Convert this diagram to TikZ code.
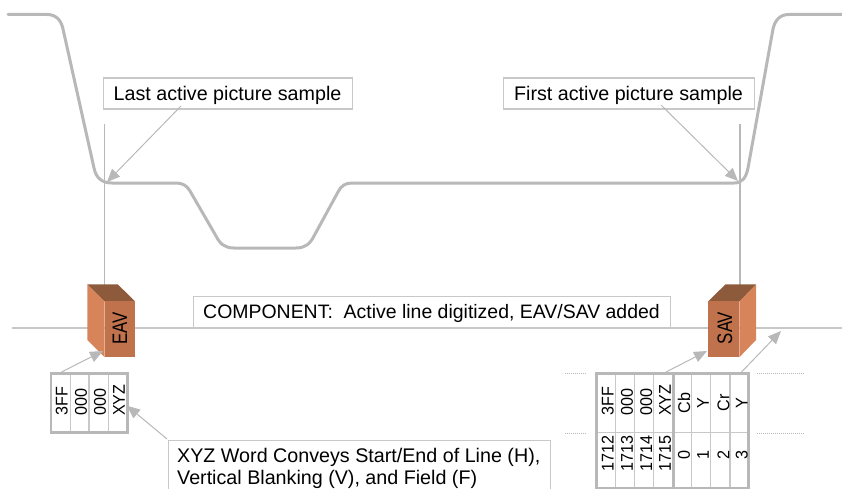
\documentclass[tikz,border=0pt]{standalone}
\usepackage{fontspec}
\setmainfont{Liberation Sans}
\newfontfamily\cellf[FakeStretch=0.95]{Liberation Sans}
\newfontfamily\boxf[FakeStretch=0.8]{Liberation Sans}
\usetikzlibrary{arrows.meta}
\definecolor{gline}{HTML}{B8B8B8}
\definecolor{lline}{HTML}{C8C8C8}
\definecolor{bside}{HTML}{D8845A}
\definecolor{bfront}{HTML}{C0724C}
\definecolor{btop}{HTML}{8E5A3C}
\tikzset{
  wave/.style={draw=gline,line width=3pt,line join=round,line cap=round},
  guide/.style={draw=lline,line width=2pt},
  vguide/.style={draw=gline,line width=1.1pt},
  callout/.style={draw=lline,line width=1.2pt,fill=white,inner sep=0pt,anchor=north west},
  lbl/.style={inner sep=0pt,font=\fontsize{19.7}{21}\selectfont},
  pointer/.style={draw=gline,line width=1pt,-{Triangle[length=13pt,width=11pt]}},
  cell/.style={rotate=90,inner sep=0pt,font=\cellf\fontsize{17}{17}\selectfont},
  boxlabel/.style={rotate=90,inner sep=0pt,anchor=center,font=\boxf\fontsize{21}{21}\selectfont},
  tblo/.style={draw=gline,line width=2.8pt},
  tbli/.style={draw=lline,line width=1.4pt},
  dots/.style={draw=gline,line width=.8pt,dash pattern=on 1pt off 1pt},
}
\begin{document}
\begin{tikzpicture}[x=1pt,y=-1pt]
\useasboundingbox (0,0) rectangle (842,489);
\begin{scope}
\clip (0,0) rectangle (842,489);
% guides
\coordinate (lineL) at (12,327.5);
\coordinate (lineR) at (842,327.5);
\draw[guide] (lineL) -- (lineR);
\coordinate (vLt) at (104.5,124);
\coordinate (vLb) at (104.5,290);
\coordinate (vRt) at (740,124);
\coordinate (vRb) at (740,290);
\draw[vguide] (vLt) -- (vLb);
\draw[vguide] (vRt) -- (vRb);
% waveform
\draw[wave] (8,14.5) -- (47,14.5) .. controls (56,14.5) and (61,20) .. (63,29)
  -- (94,168) .. controls (96,178) and (102,183) .. (112,183)
  -- (176,183) .. controls (183,183) and (187,186) .. (190,191)
  -- (216,236) .. controls (220,244) and (225,248) .. (234,248)
  -- (296,248) .. controls (305,248) and (310,244) .. (314,236)
  -- (338,192) .. controls (341,186) and (345,183) .. (352,183)
  -- (734,183) .. controls (742,183) and (746,178) .. (748,168)
  -- (773,29) .. controls (775,20) and (780,14.5) .. (789,14.5)
  -- (842,14.5);
% callouts
\node[callout,minimum width=249.5pt,minimum height=31pt] (last) at (102.5,77.5) {};
\node[lbl,anchor=base] (lastT) at (227.5,100.5) {Last active picture sample};
\node[callout,minimum width=251pt,minimum height=31pt] (first) at (502.5,77.5) {};
\node[lbl,anchor=base] (firstT) at (628.5,100.5) {First active picture sample};
\coordinate (lastTip) at (107,182);
\coordinate (firstTip) at (738,181);
\draw[pointer] (181,106) -- (lastTip);
\draw[pointer] (661,105) -- (firstTip);
% component
\node[callout,minimum width=477.5pt,minimum height=31pt] (comp) at (192.5,295.5) {};
\node[lbl,anchor=base,font=\fontsize{19.45}{21}\selectfont] (compT) at (431.5,318.5) {COMPONENT:\ \ Active line digitized, EAV/SAV added};
% EAV box
\fill[bside] (87.3,284.3) -- (104.7,301.3) -- (104.7,357.3) -- (87.3,340) -- cycle;
\fill[btop] (87.3,284.3) -- (117.7,284.3) -- (135,301.3) -- (104.7,301.3) -- cycle;
\fill[bfront] (104.7,301.3) rectangle (135,357.3);
\node[boxlabel] (eav) at (120,328.3) {EAV};
% SAV box
\fill[bside] (739.3,301.3) -- (756,284.3) -- (756,340) -- (739.3,357.3) -- cycle;
\fill[btop] (708.3,301.3) -- (739.3,301.3) -- (756,284.3) -- (725.5,284.3) -- cycle;
\fill[bfront] (708.3,301.3) rectangle (739.3,357.3);
\node[boxlabel] (sav) at (725,328) {SAV};
% EAV table
\draw[tbli] (70.3,373) -- (70.3,433) (89,373) -- (89,433) (108.3,373) -- (108.3,433);
\draw[tblo] (51,373.5) rectangle (127.5,432.5);
\foreach \x/\t in {61.7/3FF,81/000,100/000,119/XYZ}
  \node[cell,anchor=west] at (\x,416) {\t};
% XYZ callout
\node[callout,minimum width=382pt,minimum height=60pt] (xyz) at (167.5,439.5) {};
\node[lbl,anchor=base west] (xyz1) at (177,462.5) {XYZ Word Conveys Start/End of Line (H),};
\node[lbl,anchor=base west] (xyz2) at (177,484.5) {Vertical Blanking (V), and Field (F)};
\coordinate (xyzTip) at (127,405.7);
\coordinate (eavTip) at (103,351);
\coordinate (savTip) at (707,351);
\coordinate (lineTip) at (781,331);
\draw[pointer] (167,439) -- (xyzTip);
\draw[pointer] (61.5,372) -- (eavTip);
\draw[pointer] (666,372) -- (savTip);
\draw[pointer] (741.5,372) -- (lineTip);
% SAV table
\foreach \x in {615.3,634.7,653.7,691.7,710.7,730}
  \draw[tbli] (\x,373) -- (\x,489);
\draw[tbli] (596,432.7) -- (749,432.7);
\draw[tblo] (673.3,373) -- (673.3,489);
\draw[tblo] (596.5,373.5) rectangle (748.5,488);
\foreach \x/\t in {607.7/3FF,627/000,646.3/000,665/XYZ}
  \node[cell,anchor=west] at (\x,416) {\t};
\foreach \x/\t in {684/Cb,703/Y,723.5/Cr,741.7/Y}
  \node[cell,anchor=center] at (\x,403) {\t};
\foreach \x/\t in {607.7/1712,627/1713,646.3/1714,665/1715}
  \node[cell,anchor=west] at (\x,472) {\t};
\foreach \x/\t in {684/0,703/1,723.5/2,741.7/3}
  \node[cell,anchor=center] at (\x,455.5) {\t};
% dotted
\draw[dots] (564.5,373) -- (586.5,373) (757,373) -- (805,373);
\draw[dots] (564.5,433) -- (586.5,433) (757,433) -- (805,433);
\end{scope}
\end{tikzpicture}
\end{document}
